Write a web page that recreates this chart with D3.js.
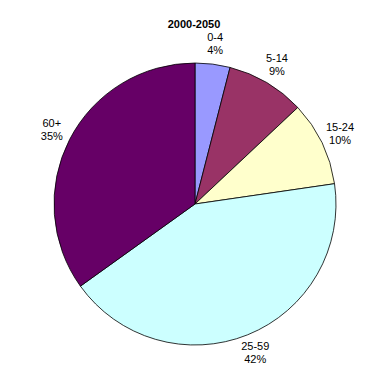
<!DOCTYPE html>
<html>
<head>
<meta charset="utf-8">
<script src="https://cdn.jsdelivr.net/npm/d3@7"></script>
<style>
  body { margin: 0; background: #fff; }
  text { font-family: Arial, "Liberation Sans", sans-serif; font-size: 11px; fill: #000; }
</style>
</head>
<body>
<div id="wrap"></div>
<script>
// age groups, share of population (%)
var groups = ['0-4', '5-14', '15-24', '25-59', '60+'];
var shares = [4.0, 9.0, 9.7, 42.4, 34.9];
var colors = ['#9999ff', '#993366', '#ffffcc', '#ccffff', '#660066'];
var title = '2000-2050';

var width = 390, height = 390,
    cx = 195, cy = 204,
    radius = 141,
    labelRadius = 161;

var svg = d3.select('#wrap').append('svg')
    .attr('width', width)
    .attr('height', height);

var data = groups.map(function(g, i){ return {name: g, value: shares[i], color: colors[i]}; });
var total = d3.sum(shares);

var pie = d3.pie()
    .sort(null)
    .value(function(d){ return d.value; });

var arc = d3.arc().innerRadius(0).outerRadius(radius);
var labelArc = d3.arc().innerRadius(labelRadius).outerRadius(labelRadius);

var g = svg.append('g')
    .attr('transform', 'translate(' + cx + ',' + cy + ')');

g.selectAll('.slice')
  .data(pie(data))
  .enter().append('path')
    .attr('class', 'slice')
    .attr('d', arc)
    .attr('fill', function(d){ return d.data.color; })
    .attr('stroke', '#000')
    .attr('stroke-width', 0.8);

var labels = g.selectAll('.lbl')
  .data(pie(data))
  .enter().append('text')
    .attr('class', 'lbl')
    .attr('text-anchor', 'middle')
    .attr('transform', function(d){ return 'translate(' + labelArc.centroid(d) + ')'; });

labels.append('tspan')
    .attr('x', 0)
    .attr('y', -3)
    .text(function(d){ return d.data.name; });
labels.append('tspan')
    .attr('x', 0)
    .attr('y', 10)
    .text(function(d){ return Math.round(d.data.value / total * 100) + '%'; });

svg.append('text')
    .attr('x', 194)
    .attr('y', 28)
    .attr('text-anchor', 'middle')
    .style('font-weight', 'bold')
    .text(title);
</script>
</body>
</html>
